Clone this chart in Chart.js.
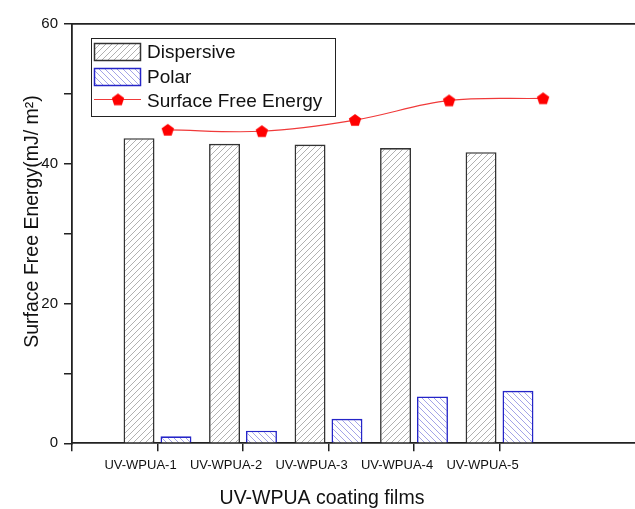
<!DOCTYPE html>
<html>
<head>
<meta charset="utf-8">
<script src="https://cdn.jsdelivr.net/npm/chart.js@4.4.1/dist/chart.umd.min.js"></script>
<style>
  html, body { margin: 0; padding: 0; background: #fff; overflow: hidden; }
  #wrap { width: 635px; height: 509px; overflow: hidden; position: relative; }
  canvas { display: block; }
</style>
</head>
<body>
<div id="wrap"><canvas id="c" width="660" height="509"></canvas></div>
<script>
// ---- data ----
const categories = ['UV-WPUA-1', 'UV-WPUA-2', 'UV-WPUA-3', 'UV-WPUA-4', 'UV-WPUA-5'];
const categoryX = [1, 2, 3, 4, 5];
const dispersive = [43.6, 42.8, 42.7, 42.2, 41.6];
const polar = [1.0, 1.8, 3.5, 6.7, 7.5];
const sfeX = [1.12, 2.22, 3.31, 4.41, 5.51];
const sfe = [44.8, 44.6, 46.2, 49.0, 49.3];
const yLabeledTicks = [0, 20, 40, 60];
const seriesNames = ['Dispersive', 'Polar', 'Surface Free Energy'];
const xTitle = 'UV-WPUA coating films';
const yTitle = 'Surface Free Energy(mJ/ m\u00B2)';

const FONT = '"Liberation Sans", Arial, sans-serif';

function hatch(color, dir, step, bg) {
  const c = document.createElement('canvas');
  c.width = step; c.height = step;
  const g = c.getContext('2d');
  g.fillStyle = bg; g.fillRect(0, 0, step, step);
  g.strokeStyle = color; g.lineWidth = 0.9;
  g.beginPath();
  if (dir > 0) {
    g.moveTo(0, step); g.lineTo(step, 0);
    g.moveTo(-step, step); g.lineTo(0, 0);
    g.moveTo(0, 2 * step); g.lineTo(2 * step, 0);
  } else {
    g.moveTo(0, 0); g.lineTo(step, step);
    g.moveTo(-step, 0); g.lineTo(step, 2 * step);
    g.moveTo(0, -step); g.lineTo(2 * step, step);
  }
  g.stroke();
  return g.createPattern(c, 'repeat');
}

function pentagon(size, color) {
  const c = document.createElement('canvas');
  c.width = size; c.height = size;
  const g = c.getContext('2d');
  const r = size / 2 - 0.5, cx = size / 2, cy = size / 2 + 0.6;
  g.fillStyle = color;
  g.beginPath();
  for (let i = 0; i < 5; i++) {
    const a = -Math.PI / 2 + i * 2 * Math.PI / 5;
    const px = cx + r * Math.cos(a), py = cy + r * Math.sin(a);
    if (i === 0) g.moveTo(px, py); else g.lineTo(px, py);
  }
  g.closePath(); g.fill();
  return c;
}

const ctx = document.getElementById('c').getContext('2d');
const dispPattern = hatch('#a8a8a8', 1, 6, '#ffffff');
const polarPattern = hatch('#9a9ae4', -1, 6, '#ffffff');
const pent = pentagon(14, '#ff0000');

const decorPlugin = {
  id: 'decor',
  afterDraw(chart) {
    const g = chart.ctx;
    g.save();
    // legend box
    g.strokeStyle = '#222'; g.lineWidth = 1;
    g.strokeRect(91.5, 38.5, 244, 78);
    // swatch 1
    g.fillStyle = dispPattern; g.fillRect(94.5, 43.5, 46, 17);
    g.strokeStyle = '#333'; g.lineWidth = 1.5; g.strokeRect(94.5, 43.5, 46, 17);
    // swatch 2
    g.fillStyle = polarPattern; g.fillRect(94.5, 68.5, 46, 17);
    g.strokeStyle = '#2525c8'; g.lineWidth = 1.5; g.strokeRect(94.5, 68.5, 46, 17);
    // line swatch
    g.strokeStyle = '#f03a3a'; g.lineWidth = 1.2;
    g.beginPath(); g.moveTo(94, 99.5); g.lineTo(141, 99.5); g.stroke();
    g.drawImage(pent, 118 - 7, 99.5 - 7);
    // legend text
    g.fillStyle = '#111';
    g.font = '19px ' + FONT;
    g.textBaseline = 'alphabetic'; g.textAlign = 'left';
    g.fillText(seriesNames[0], 147, 58);
    g.fillText(seriesNames[1], 147, 82.5);
    g.fillText(seriesNames[2], 147, 107);
    // axis titles
    g.font = '19.5px ' + FONT;
    g.textAlign = 'center';
    g.fillText(xTitle, 322, 504);
    g.translate(37.5, 221.5);
    g.rotate(-Math.PI / 2);
    g.fillText(yTitle, 0, 0);
    g.restore();
  }
};

new Chart(ctx, {
  type: 'bar',
  data: {
    datasets: [
      {
        label: seriesNames[0],
        data: categoryX.map((x, i) => ({ x: x, y: dispersive[i] })),
        backgroundColor: dispPattern,
        borderColor: '#333',
        borderWidth: 1.6,
        borderSkipped: 'start',
        categoryPercentage: 0.864,
        barPercentage: 0.838,
        order: 2
      },
      {
        label: seriesNames[1],
        data: categoryX.map((x, i) => ({ x: x, y: polar[i] })),
        backgroundColor: polarPattern,
        borderColor: '#2525c8',
        borderWidth: 1.6,
        borderSkipped: 'start',
        categoryPercentage: 0.864,
        barPercentage: 0.838,
        order: 2
      },
      {
        type: 'line',
        label: seriesNames[2],
        data: sfeX.map((x, i) => ({ x: x, y: sfe[i] })),
        borderColor: '#f03a3a',
        borderWidth: 1.2,
        tension: 0.35,
        pointStyle: pent,
        pointRadius: 7,
        pointBackgroundColor: '#ff0000',
        fill: false,
        order: 1
      }
    ]
  },
  options: {
    responsive: false,
    animation: false,
    devicePixelRatio: 1,
    layout: { padding: { left: 0, right: 10, top: 0, bottom: 0 } },
    plugins: { legend: { display: false }, tooltip: { enabled: false }, title: { display: false } },
    scales: {
      x: {
        type: 'linear',
        position: 'bottom',
        min: 0,
        max: 6.76,
        offset: false,
        afterFit(s) { s.height = 65.7; },
        afterBuildTicks(s) { s.ticks = [0].concat(categoryX).map(v => ({ value: v })); },
        grid: { display: true, drawOnChartArea: false, drawTicks: true, tickLength: 8, color: '#222', tickColor: '#222', lineWidth: 1.5, offset: false },
        border: { display: true, color: '#222', width: 1.8 },
        ticks: {
          autoSkip: false,
          maxRotation: 0,
          padding: 6,
          labelOffset: -17,
          color: '#111',
          font: { family: FONT, size: 13 },
          callback(v) { const i = categoryX.indexOf(v); return i >= 0 ? categories[i] : ''; }
        }
      },
      xTop: {
        type: 'linear',
        position: 'top',
        min: 0, max: 1,
        afterFit(s) { s.height = 23.5; },
        grid: { display: false },
        border: { display: true, color: '#222', width: 1.8 },
        ticks: { display: false }
      },
      y: {
        type: 'linear',
        min: 0,
        max: 60,
        afterFit(s) { s.width = 72; },
        grid: { display: true, drawOnChartArea: false, drawTicks: true, tickLength: 8, color: '#222', tickColor: '#222', lineWidth: 1.5 },
        border: { display: true, color: '#222', width: 1.8 },
        ticks: {
          stepSize: 10,
          padding: 6,
          color: '#111',
          font: { family: FONT, size: 15 },
          callback(v) { return yLabeledTicks.includes(v) ? String(v) : ''; }
        }
      }
    }
  },
  plugins: [decorPlugin]
});
</script>
</body>
</html>
